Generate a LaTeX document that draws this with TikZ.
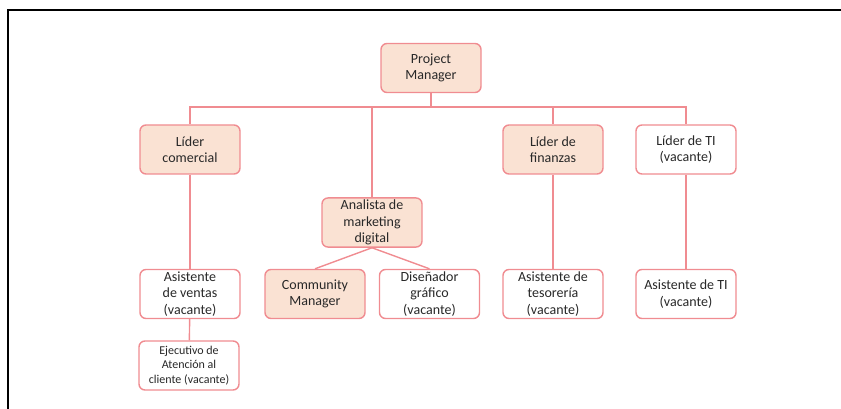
\documentclass[tikz,border=0pt]{standalone}
\usepackage{fontspec}
\setmainfont{Carlito}
\usepackage{tikz}
\definecolor{rosa}{RGB}{240,140,145}
\definecolor{durazno}{RGB}{250,226,211}
\definecolor{texto}{RGB}{40,40,40}

\begin{document}
\begin{tikzpicture} [x=1pt,y=-1pt,
  caja/.style={draw=rosa,line width=1.4pt,rounded corners=6pt,minimum width=100pt,minimum height=49pt,
    inner sep=2pt,align=center,text=texto,font=\fontsize{14}{16.5}\selectfont},
  llena/.style={caja,fill=durazno},
  vacia/.style={caja,fill=white},
  linea/.style={draw=rosa,line width=1.4pt}]
 \useasboundingbox (0,0) rectangle (841,409);
 \draw [line width=2pt] (8.3,409) -- (8.3,10) -- (841,10);
 \node [llena] (pm) at (431,68) {Project\\Manager};
 \node [llena] (lcom) at (190,149.5) {Líder\\comercial};
 \node [llena] (anl) at (372,222.5) {Analista de\\marketing\\digital};
 \node [llena] (lfin) at (553,149.5) {Líder de\\finanzas};
 \node [vacia] (lti) at (686,149.5) {Líder de TI\\(vacante)};
 \node [vacia] (asv) at (190,294) {Asistente\\de ventas\\(vacante)};
 \node [vacia, font=\fontsize{12}{14.5}\selectfont] (ejec) at (189,365.5) {Ejecutivo de\\Atención al\\cliente (vacante)};
 \node [llena] (cm) at (315,294) {Community\\Manager};
 \node [vacia] (dis) at (429.5,294) {Diseñador\\gráfico\\(vacante)};
 \node [vacia] (ates) at (553,294) {Asistente de\\tesorería\\(vacante)};
 \node [vacia] (ati) at (686,294) {Asistente de TI\\(vacante)};
 \coordinate (bus) at (431,107);
 \draw [linea] (pm) -- (bus);
 \draw [linea] (bus) -| (lcom);
 \draw [linea] (bus) -| (anl);
 \draw [linea] (bus) -| (lfin);
 \draw [linea] (bus) -| (lti);
 \draw [linea] (lcom) -- (asv);
 \draw [linea] (asv) -- (ejec);
 \draw [linea] (anl.south) -- (cm.north);
 \draw [linea] (anl.south) -- (dis.north);
 \draw [linea] (lfin) -- (ates);
 \draw [linea] (lti) -- (ati);
\end{tikzpicture}
\end{document}
